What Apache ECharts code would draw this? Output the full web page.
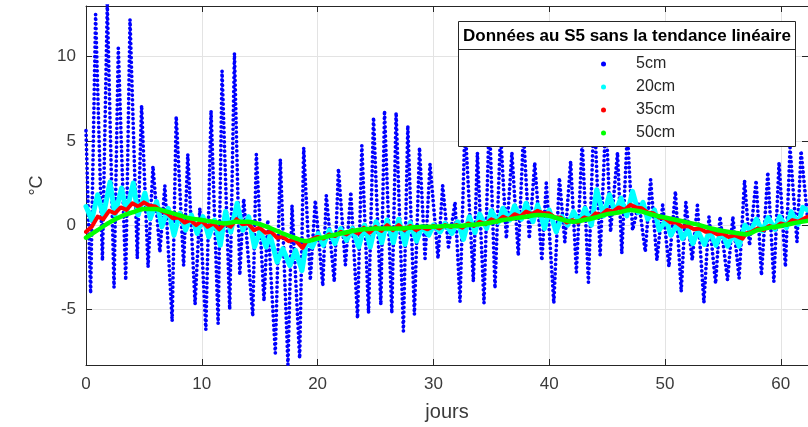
<!DOCTYPE html>
<html>
<head>
<meta charset="utf-8">
<script src="https://cdn.jsdelivr.net/npm/echarts@6/dist/echarts.min.js"></script>
<style>
html,body{margin:0;padding:0;background:#fff;}
#chart{width:808px;height:427px;}
</style>
</head>
<body>
<div id="chart"></div>
<script>
// ---- data ----
const seriesNames = ['5cm', '20cm', '35cm', '50cm'];
const xTicks = [0, 10, 20, 30, 40, 50, 60];
const yTicks = [-5, 0, 5, 10];

// 5 cm : daily extremes [day, °C]
const data5cm = [
[0,5.6],[0.4,-4.05],[0.83,12.5],[1.42,-2.1],[1.84,13.1],[2.42,-3.7],[2.79,10.5],[3.43,-3.26],[3.8,12.2],[4.43,-1.98],
[4.8,7.1],[5.36,-2.5],[5.78,3.5],[6.38,-1.6],[6.81,2.35],[7.44,-5.7],[7.79,6.45],[8.43,-2.4],[8.79,4.2],[9.42,-4.7],
[9.83,1.0],[10.35,-6.2],[10.8,6.8],[11.41,-5.85],[11.75,9.15],[12.41,-5.0],[12.82,10.2],[13.28,-2.96],[13.62,1.56],[14.4,-5.4],
[14.71,4.2],[15.37,-4.5],[15.7,0.3],[16.35,-7.6],[16.78,3.9],[17.44,-8.28],[17.79,1.17],[18.45,-7.9],[18.8,4.6],[19.37,-3.26],
[19.8,1.47],[20.45,-3.6],[20.75,1.76],[21.44,-3.36],[21.8,3.34],[22.4,-2.37],[22.87,1.96],[23.45,-5.52],[23.82,4.72],[24.4,-5.22],
[24.83,6.39],[25.46,-4.73],[25.78,6.78],[26.41,-5.22],[26.78,6.68],[27.41,-6.3],[27.79,5.9],[28.36,-5.3],[28.8,4.6],[29.28,-1.98],
[29.71,3.63],[30.4,-1.98],[30.8,2.35],[31.3,-1.29],[31.87,1.37],[32.3,-4.54],[32.73,6.0],[33.45,-3.36],[33.8,4.3],[34.37,-4.64],
[34.83,6.5],[35.32,-3.75],[35.8,5.5],[36.3,-0.8],[36.78,4.3],[37.33,-1.8],[37.78,5.5],[38.28,-0.8],[38.75,3.7],[39.37,-2.1],
[39.75,2.5],[40.4,-4.64],[40.88,2.8],[41.35,-1.0],[41.85,3.78],[42.35,-2.8],[42.85,5.0],[43.39,-3.4],[43.88,7.0],[44.4,-1.78],
[44.9,6.5],[45.3,-0.4],[45.9,4.3],[46.27,-1.68],[46.75,5.5],[47.2,-0.3],[47.75,1.3],[48.3,-1.58],[48.76,2.7],[49.3,-2.08],
[49.8,1.2],[50.34,-2.47],[50.9,2.0],[51.4,-3.95],[51.8,1.37],[52.35,-2.08],[52.8,1.17],[53.36,-4.6],[53.8,0.5],[54.37,-3.46],
[54.75,0.5],[55.4,-3.26],[55.86,0.5],[56.4,-3.16],[56.87,2.65],[57.3,-1.2],[57.87,2.65],[58.33,-2.96],[58.88,3.14],[59.4,-3.36],
[59.85,3.73],[60.4,-2.47],[60.8,4.6],[61.4,-1.0],[61.75,4.4],[62.3,0.5]
];

// 20 cm
const data20cm = [
[0,1.1],[0.5,0.3],[1.0,1.8],[1.5,0.55],[2.07,2.55],[2.5,0.6],[3.07,2.2],[3.5,0.75],[4.08,2.5],[4.5,0.6],
[5.09,1.9],[5.55,0.4],[6.1,1.4],[6.55,-0.1],[7.1,1.0],[7.6,-0.6],[8.1,0.7],[8.6,-0.3],[9.1,0.6],[9.6,-0.5],
[10.1,0.5],[10.6,-0.7],[11.1,0.3],[11.6,-1.2],[12.05,0.8],[12.5,-0.4],[13.05,1.3],[13.55,-0.3],[14.05,0.5],[14.55,-1.3],
[15.05,-0.3],[15.55,-1.3],[15.9,-0.6],[16.5,-2.2],[17.0,-1.4],[17.6,-2.4],[18.1,-1.5],[18.65,-2.7],[19.05,-1.0],[19.55,-1.3],
[20.05,-0.5],[20.5,-1.2],[21.0,-0.3],[21.5,-1.1],[22.0,-0.2],[22.5,-0.9],[23.0,-0.2],[23.55,-1.3],[24.05,0.0],[24.55,-1.3],
[25.05,0.2],[25.55,-1.05],[26.0,0.3],[26.55,-1.05],[27.0,0.35],[27.55,-1.15],[28.0,0.15],[28.55,-0.95],[29.0,-0.1],[29.6,-0.6],
[30.0,0.0],[30.6,-0.4],[31.0,0.1],[31.6,-0.5],[32.1,0.2],[32.6,-0.85],[33.1,0.5],[33.6,-0.45],[34.0,0.65],[34.6,-0.2],
[35.0,0.85],[35.6,0.15],[36.0,1.0],[36.6,0.3],[37.0,1.15],[37.6,0.35],[38.0,1.3],[38.6,0.2],[39.0,1.2],[39.6,-0.2],
[40.0,0.9],[40.6,-0.4],[41.1,0.5],[41.6,0.0],[42.1,0.8],[42.6,0.2],[43.1,1.0],[43.65,0.0],[44.1,2.1],[44.7,0.55],
[45.2,1.8],[45.7,0.75],[46.2,1.6],[46.7,0.55],[47.2,2.0],[47.7,0.75],[48.1,1.35],[48.5,0.35],[49.1,0.9],[49.5,-0.3],
[50.1,0.3],[50.5,-0.6],[51.1,0.1],[51.5,-0.8],[52.0,-0.3],[52.4,-1.1],[52.85,-0.35],[53.4,-1.15],[53.85,-0.35],[54.4,-1.2],
[54.9,-0.4],[55.4,-1.25],[55.9,-0.5],[56.4,-1.25],[56.9,0.0],[57.4,-0.35],[57.9,0.35],[58.4,-0.35],[58.9,0.45],[59.5,-0.25],
[59.9,0.5],[60.5,-0.15],[60.9,0.8],[61.5,0.05],[61.9,1.05],[62.3,0.9]
];

// 35 cm
const data35cm = [
[0,-0.4],[0.5,-0.1],[1.0,0.5],[1.5,0.35],[2.0,0.85],[2.5,0.7],[3.0,1.05],[3.5,0.9],[4.0,1.3],[4.5,1.1],
[5.0,1.35],[5.5,1.15],[6.0,1.1],[6.5,0.85],[7.0,0.7],[7.5,0.4],[8.0,0.45],[8.5,0.15],[9.0,0.3],[9.5,0.0],
[10.0,0.25],[10.5,-0.1],[11.0,0.1],[11.5,-0.25],[12.0,0.1],[12.5,-0.1],[13.0,0.35],[13.5,0.05],[14.0,0.1],[14.5,-0.3],
[15.0,-0.15],[15.5,-0.45],[16.0,-0.4],[16.5,-0.75],[17.0,-0.7],[17.5,-0.95],[18.0,-0.85],[18.7,-1.35],[19.0,-1.0],[19.5,-0.85],
[20.0,-0.7],[20.5,-0.8],[21.0,-0.55],[21.5,-0.65],[22.0,-0.4],[22.5,-0.55],[23.0,-0.3],[23.5,-0.5],[24.0,-0.15],[24.5,-0.45],
[25.0,-0.1],[25.5,-0.35],[26.0,0.0],[26.5,-0.3],[27.0,0.0],[27.5,-0.3],[28.0,-0.05],[28.5,-0.3],[29.0,-0.1],[29.5,-0.25],
[30.0,-0.05],[30.5,-0.2],[31.0,0.0],[31.5,-0.1],[32.0,0.0],[32.5,-0.15],[33.0,0.1],[33.5,-0.05],[34.0,0.2],[34.5,0.05],
[35.0,0.35],[35.5,0.2],[36.0,0.5],[36.5,0.35],[37.0,0.65],[37.5,0.5],[38.0,0.8],[38.5,0.65],[39.0,0.85],[39.5,0.7],
[40.0,0.7],[40.5,0.45],[41.0,0.45],[41.5,0.15],[42.0,0.3],[42.5,0.15],[43.0,0.45],[43.5,0.35],[44.0,0.7],[44.5,0.6],
[45.0,0.9],[45.5,0.8],[46.0,1.05],[46.5,0.9],[47.0,1.2],[47.5,1.05],[48.0,1.0],[48.5,0.75],[49.0,0.7],[49.5,0.45],
[50.0,0.4],[50.5,0.15],[51.0,0.15],[51.5,-0.1],[52.0,-0.05],[52.5,-0.25],[53.0,-0.2],[53.5,-0.4],[54.0,-0.35],[54.5,-0.55],
[55.0,-0.5],[55.5,-0.7],[56.0,-0.6],[56.7,-0.8],[57.0,-0.5],[57.5,-0.4],[58.0,-0.2],[58.5,-0.3],[59.0,-0.05],[59.5,-0.15],
[60.0,0.1],[60.5,0.0],[61.0,0.3],[61.5,0.2],[62.3,0.5]
];

// 50 cm
const data50cm = [
[0,-0.75],[1,-0.3],[2,0.15],[3,0.5],[4,0.75],[5,0.95],[6,0.95],[7,0.8],[8,0.6],[9,0.4],
[10,0.3],[11,0.2],[12,0.1],[13,0.2],[14,0.2],[15,0.05],[16,-0.2],[17,-0.5],[18,-0.75],[19,-0.95],
[20,-0.8],[21,-0.65],[22,-0.5],[23,-0.35],[24,-0.25],[25,-0.2],[26,-0.2],[27,-0.2],[28,-0.15],[29,-0.1],
[30,-0.1],[31,-0.05],[32,-0.05],[33,0.0],[34,0.05],[35,0.15],[36,0.3],[37,0.4],[38,0.5],[39,0.6],
[40,0.55],[41,0.35],[42,0.2],[43,0.3],[44,0.45],[45,0.65],[46,0.75],[47,0.9],[48,0.8],[49,0.6],
[50,0.45],[51,0.3],[52,0.15],[53,0.0],[54,-0.2],[55,-0.35],[56,-0.45],[57,-0.55],[58,-0.3],[59,-0.15],
[60,-0.05],[61,0.1],[62.3,0.25]
];

const legendTitle = 'Données au S5 sans la tendance linéaire';

// ---- chart ----
const FONT = '"Liberation Sans", Arial, Helvetica, sans-serif';
const AX = '#262626';
const chart = echarts.init(document.getElementById('chart'), null, {renderer: 'canvas'});

const tickStyle = {color: AX, width: 1};
function xAxisCfg(pos, main) {
  return {
    type: 'value', min: 0, max: 62.35, position: pos,
    axisLine: {show: true, onZero: false, lineStyle: {color: AX, width: 1}},
    axisTick: {show: true, inside: true, length: 6, customValues: xTicks, lineStyle: tickStyle},
    axisLabel: {show: main, customValues: xTicks, fontSize: 17, color: '#3a3a3a', margin: 11, fontFamily: FONT},
    splitLine: {show: main, lineStyle: {color: '#e3e3e3', width: 1}},
    name: main ? 'jours' : '', nameLocation: 'middle', nameGap: 37,
    nameTextStyle: {fontSize: 20, color: '#3a3a3a', fontFamily: FONT}
  };
}
function yAxisCfg(pos, main) {
  return {
    type: 'value', min: -8.3, max: 13, position: pos,
    axisLine: {show: true, onZero: false, lineStyle: {color: AX, width: 1}},
    axisTick: {show: true, inside: true, length: 6, customValues: yTicks, lineStyle: tickStyle},
    axisLabel: {show: main, customValues: yTicks, fontSize: 17, color: '#3a3a3a', margin: 10, fontFamily: FONT},
    splitLine: {show: main, lineStyle: {color: '#e3e3e3', width: 1}},
    name: main ? '°C' : '', nameLocation: 'middle', nameGap: 37, nameRotate: 90,
    nameTextStyle: {fontSize: 18, color: '#3a3a3a', fontFamily: FONT}
  };
}

const option = {
  animation: false,
  backgroundColor: '#ffffff',
  color: ['#0000ff', '#00ffff', '#ff0000', '#00ff00'],
  grid: {left: 86, right: -1, top: 6, bottom: 61, containLabel: false},
  xAxis: [xAxisCfg('bottom', true), xAxisCfg('top', false)],
  yAxis: [yAxisCfg('left', true), yAxisCfg('right', false)],
  legend: {
    orient: 'vertical', left: 601, top: 56, padding: 0, itemGap: 7,
    itemWidth: 5, itemHeight: 5, icon: 'circle', z: 110,
    textStyle: {fontSize: 16, lineHeight: 16, color: AX, fontFamily: FONT, padding: [0, 0, 0, 25]},
    data: seriesNames
  },
  graphic: [
    {type: 'rect', z: 100, shape: {x: 458.5, y: 21.5, width: 337, height: 125},
     style: {fill: '#ffffff', stroke: AX, lineWidth: 1}},
    {type: 'line', z: 101, shape: {x1: 458.5, y1: 49.5, x2: 795.5, y2: 49.5},
     style: {stroke: AX, lineWidth: 1}},
    {type: 'text', z: 101, style: {text: legendTitle, x: 627, y: 36, align: 'center', verticalAlign: 'middle',
     fontSize: 17, fontWeight: 'bold', fontFamily: FONT, fill: '#000000'}}
  ],
  series: [
    {name: seriesNames[0], type: 'line', data: data5cm, showSymbol: false, symbol: 'none', z: 2,
     lineStyle: {color: '#0000ff', width: 3.7, type: [0.1, 4.6], cap: 'round', join: 'round'}},
    {name: seriesNames[1], type: 'line', data: data20cm, showSymbol: false, symbol: 'none', z: 3,
     lineStyle: {color: '#00ffff', width: 5, cap: 'round', join: 'round'}},
    {name: seriesNames[2], type: 'line', data: data35cm, showSymbol: false, symbol: 'none', z: 4,
     lineStyle: {color: '#ff0000', width: 4, cap: 'round', join: 'round'}},
    {name: seriesNames[3], type: 'line', data: data50cm, showSymbol: false, symbol: 'none', z: 5, smooth: 0.3,
     lineStyle: {color: '#00ff00', width: 4.5, cap: 'round', join: 'round'}}
  ]
};
chart.setOption(option);
</script>
</body>
</html>
